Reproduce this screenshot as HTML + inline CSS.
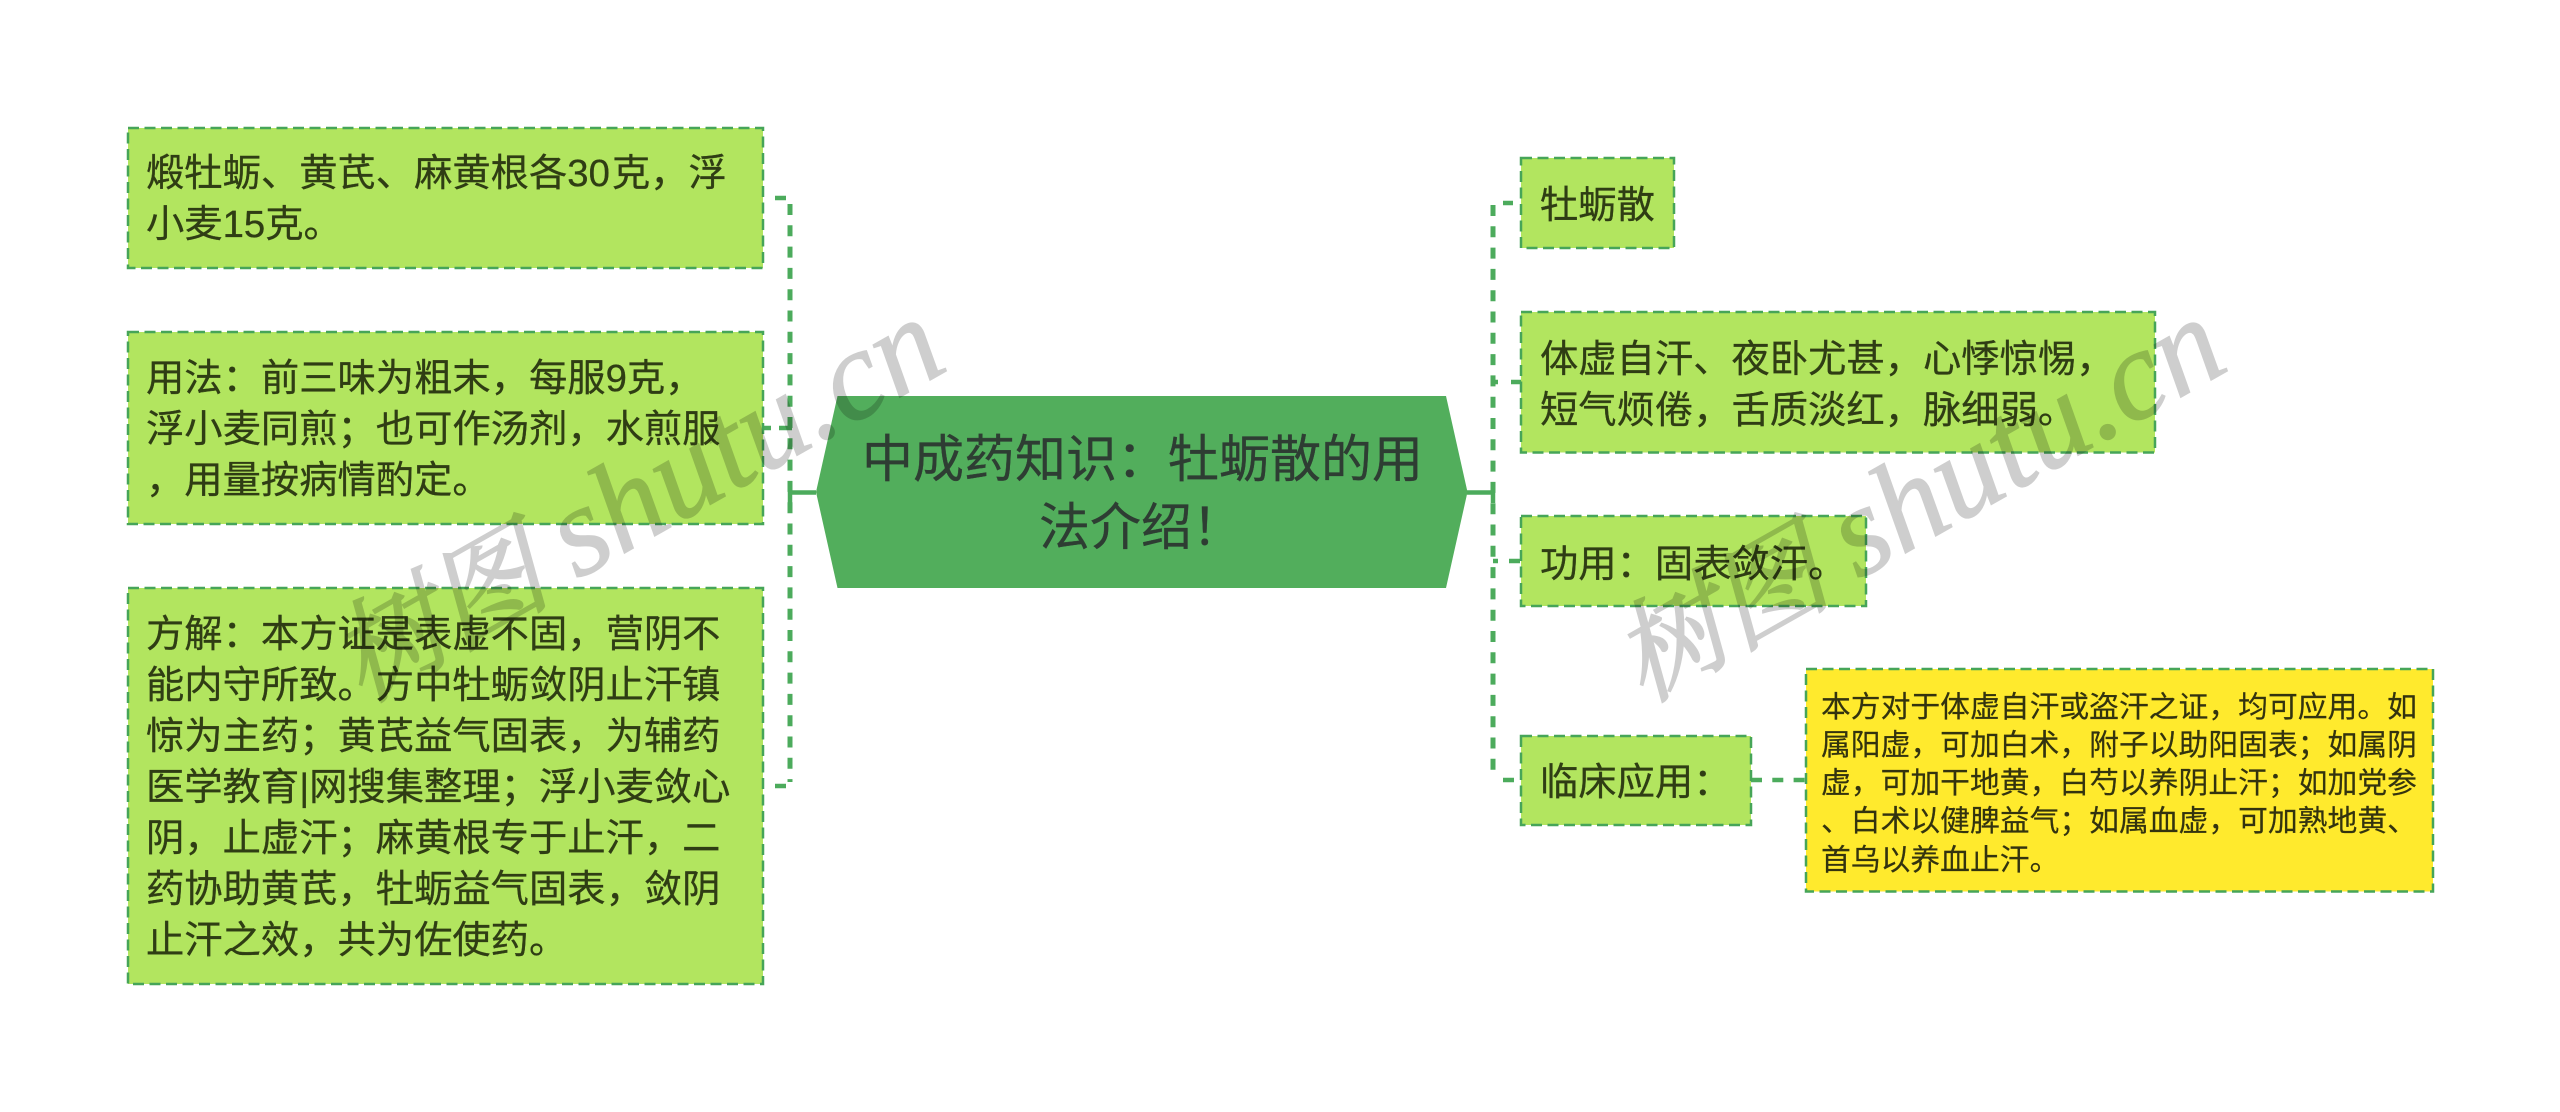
<!DOCTYPE html>
<html lang="zh-CN">
<head>
<meta charset="utf-8">
<title>中成药知识：牡蛎散的用法介绍！</title>
<style>
html,body{margin:0;padding:0;background:#fff;width:2560px;height:1112px;overflow:hidden}
svg{display:block}
.b{fill:#b2e55f;stroke:#46a558;stroke-width:2.500;stroke-dasharray:11 5.5}
.y{fill:#ffea2d;stroke:#46a558;stroke-width:2.500;stroke-dasharray:11 5.5}
.c{fill:none;stroke:#4cab5c;stroke-width:4.5}
.d{stroke-dasharray:11 10.3;stroke-width:5}
text{font-family:"Liberation Sans","Noto Sans CJK SC",sans-serif}
.t{font-size:38.3px;fill:#2f3d14;stroke:#2f3d14;stroke-width:.3}
.s{font-size:29.8px;fill:#33330f;stroke:#33330f;stroke-width:.2}
.r{font-size:51px;fill:#2e3d33;stroke:#2e3d33;stroke-width:.3}
.w{font-family:"Liberation Serif","Noto Serif CJK SC",serif;font-style:italic;font-size:128px;fill:#000;stroke:#000;stroke-width:1.2;opacity:.19}
.k{font-size:110px;stroke-width:2}
</style>
</head>
<body>
<svg xmlns="http://www.w3.org/2000/svg" width="2560" height="1112" viewBox="0 0 2560 1112">
<rect width="2560" height="1112" fill="#fff"/>

<!-- connectors left -->
<path class="c d" d="M790 204V782"/>
<path class="c" d="M775 198H786M775 786H786M763 428H771M779 428H792"/>
<path class="c" d="M790 492.5H816M790 482V503"/>
<!-- connectors right -->
<path class="c d" d="M1493 205V778"/>
<path class="c" d="M1503 203H1513M1493 382H1498M1511 382H1521M1493 561H1498M1509 561H1520M1503 780H1514"/>
<path class="c" d="M1467 492.5H1493M1493 482V503"/>
<path class="c" style="stroke-dasharray:11 10.3" d="M1751 780H1806"/>

<!-- root -->
<polygon points="837.5,396 1446,396 1467.5,492 1446,588 837.5,588 816,492" fill="#52ae5c"/>
<text class="r" x="862" y="477">中成药知识：牡蛎散的用</text>
<text class="r" x="1039" y="545">法介绍！</text>

<!-- left boxes -->
<rect class="b" x="128" y="128" width="635" height="140"/>
<text class="t" x="146" y="186">煅牡蛎、黄芪、麻黄根各30<tspan dx="2">克，浮</tspan></text>
<text class="t" x="146" y="237">小麦15克。</text>

<rect class="b" x="128" y="332" width="635" height="192"/>
<text class="t" x="146" y="391">用法：前三味为粗末，每服9克，</text>
<text class="t" x="146" y="442">浮小麦同煎；也可作汤剂，水煎服</text>
<text class="t" x="146" y="493">，用量按病情酌定。</text>

<rect class="b" x="128" y="588" width="635" height="396"/>
<text class="t" x="146" y="647">方解：本方证是表虚不固，营阴不</text>
<text class="t" x="146" y="698">能内守所致。方中牡蛎敛阴止汗镇</text>
<text class="t" x="146" y="749">惊为主药；黄芪益气固表，为辅药</text>
<text class="t" x="146" y="800">医学教育|网搜集整理；浮小麦敛心</text>
<text class="t" x="146" y="851">阴，止虚汗；麻黄根专于止汗，二</text>
<text class="t" x="146" y="902">药协助黄芪，牡蛎益气固表，敛阴</text>
<text class="t" x="146" y="953">止汗之效，共为佐使药。</text>

<!-- right boxes -->
<rect class="b" x="1521" y="158" width="153" height="90"/>
<text class="t" x="1540" y="218">牡蛎散</text>

<rect class="b" x="1521" y="312" width="634" height="140.500"/>
<text class="t" x="1540" y="372">体虚自汗、夜卧尤甚，心悸惊惕，</text>
<text class="t" x="1540" y="423">短气烦倦，舌质淡红，脉细弱。</text>

<rect class="b" x="1521" y="516" width="345" height="90"/>
<text class="t" x="1540" y="577">功用：固表敛汗。</text>

<rect class="b" x="1521" y="736" width="230" height="89"/>
<text class="t" x="1540" y="795">临床应用：</text>

<rect class="y" x="1806" y="669" width="627" height="222.500"/>
<text class="s" x="1821" y="717">本方对于体虚自汗或盗汗之证，均可应用。如</text>
<text class="s" x="1821" y="755">属阳虚，可加白术，附子以助阳固表；如属阴</text>
<text class="s" x="1821" y="793">虚，可加干地黄，白芍以养阴止汗；如加党参</text>
<text class="s" x="1821" y="831">、白术以健脾益气；如属血虚，可加熟地黄、</text>
<text class="s" x="1821" y="870">首乌以养血止汗。</text>

<!-- watermarks -->
<text class="w k" transform="translate(362 703) rotate(-29.5)">树图</text>
<text class="w" transform="translate(577 580) rotate(-29.5)">shutu.cn</text>
<text class="w k" transform="translate(1643 703) rotate(-29.5)">树图</text>
<text class="w" transform="translate(1858 580) rotate(-29.5)">shutu.cn</text>
</svg>
</body>
</html>
